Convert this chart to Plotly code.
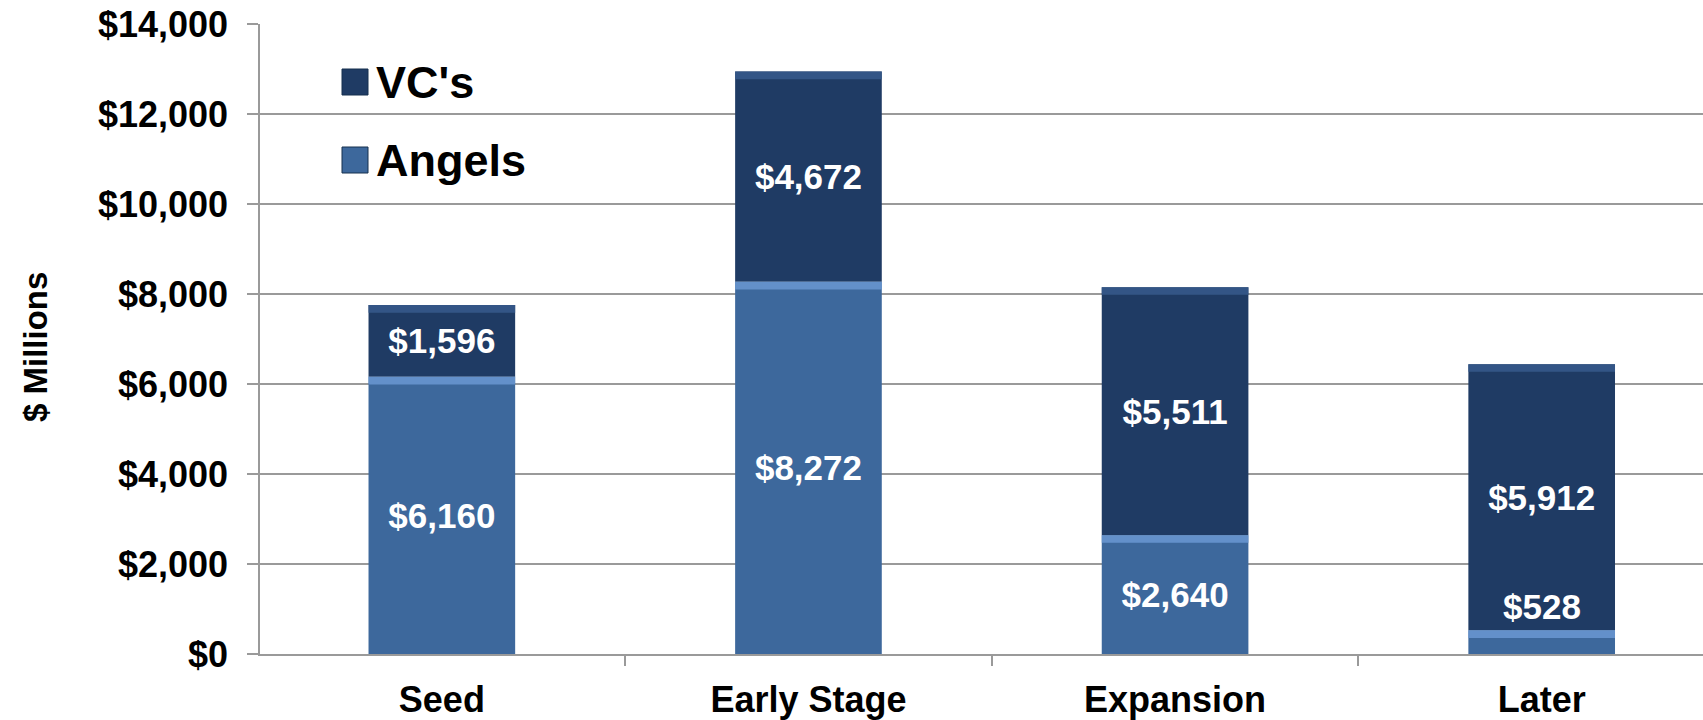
import plotly.graph_objects as go

categories = ["Seed", "Early Stage", "Expansion", "Later"]
angels = [6160, 8272, 2640, 528]
vcs = [1596, 4672, 5511, 5912]
y_ticks = [0, 2000, 4000, 6000, 8000, 10000, 12000, 14000]
y_tick_labels = ["$" + f"{v:,}" for v in y_ticks]

VC_COLOR = "#1F3B64"
ANG_COLOR = "#3D689C"
VC_HI = "#35598A"
ANG_HI = "#6A98D2"
GRID = "#9A9A9A"

W, H = 1703, 720
ML, MR, MT, MB = 260, 0, 24, 66
PW, PH = W - ML - MR, H - MT - MB

FONT = "Liberation Sans, Arial"

def fmt(v):
    return "$" + f"{v:,}"

BAR_W = 0.40
HL = 170  # highlight stripe thickness in data units

vc_base = list(angels)
tops = [a + v for a, v in zip(angels, vcs)]

ang_text = [fmt(v) if v > 1500 else "" for v in angels]
label_font = dict(family=FONT, size=35, color="white", weight="bold")

fig = go.Figure()
fig.add_trace(go.Bar(x=categories, y=angels, base=[0] * 4, width=BAR_W,
                     marker=dict(color=ANG_COLOR, line=dict(width=0)),
                     text=ang_text, textposition="inside", insidetextanchor="middle",
                     textfont=label_font,
                     textangle=0, constraintext="none", showlegend=False, name="Angels"))
fig.add_trace(go.Bar(x=categories, y=vcs, base=vc_base, width=BAR_W,
                     marker=dict(color=VC_COLOR, line=dict(width=0)),
                     text=[fmt(v) for v in vcs], textposition="inside", insidetextanchor="middle",
                     textfont=label_font,
                     textangle=0, constraintext="none", showlegend=False, name="VC's"))
# bevel highlight stripes at segment tops
fig.add_trace(go.Bar(x=categories, y=[HL] * 4, base=[a - HL for a in angels], width=BAR_W,
                     marker=dict(color=ANG_HI, line=dict(width=0)), opacity=0.85,
                     hoverinfo="skip", showlegend=False))
fig.add_trace(go.Bar(x=categories, y=[HL] * 4, base=[t - HL for t in tops], width=BAR_W,
                     marker=dict(color=VC_HI, line=dict(width=0)), opacity=0.9,
                     hoverinfo="skip", showlegend=False))

# label for the small Angels segment, placed just above it
for c, a in zip(categories, angels):
    if a <= 1500:
        fig.add_annotation(x=c, y=a, yref="y", xref="x", text=fmt(a), showarrow=False,
                           yanchor="bottom", yshift=2, font=label_font)

# manual legend (large swatches)
def px2paper(px, py):
    return (px - ML) / PW, (H - MB - py) / PH

legend_items = [("VC's", VC_COLOR, 82), ("Angels", ANG_COLOR, 160)]
for name, col, cy in legend_items:
    x0, y0 = px2paper(342, cy + 13)
    x1, y1 = px2paper(368, cy - 13)
    fig.add_shape(type="rect", xref="paper", yref="paper", x0=x0, x1=x1, y0=y0, y1=y1,
                  fillcolor=col, line=dict(color="#16304F", width=1), layer="above")
    tx, ty = px2paper(374, cy)
    fig.add_annotation(xref="paper", yref="paper", x=tx, y=ty, text="<b>" + name + "</b>",
                       showarrow=False, xanchor="left", yanchor="middle",
                       font=dict(family=FONT, size=45, color="black"))

# y-axis title
tx, ty = px2paper(35, 347)
fig.add_annotation(xref="paper", yref="paper", x=tx, y=ty, text="<b>$ Millions</b>",
                   textangle=-90, showarrow=False, xanchor="center", yanchor="middle",
                   font=dict(family=FONT, size=33, color="black"))

fig.update_layout(
    width=W, height=H,
    margin=dict(l=ML, r=MR, t=MT, b=MB, pad=0),
    barmode="overlay",
    plot_bgcolor="white", paper_bgcolor="white",
    font=dict(family=FONT, color="black"),
    showlegend=False,
)
fig.update_xaxes(type="category", categoryorder="array", categoryarray=categories,
                 range=[-0.496, 3.44], showline=True, linecolor=GRID, linewidth=1.5,
                 ticks="outside", tickson="boundaries", ticklen=10, tickcolor=GRID, tickwidth=1.5,
                 ticklabelstandoff=13,
                 tickfont=dict(size=36, family=FONT, weight="bold"),
                 showgrid=False, zeroline=False)
fig.update_yaxes(range=[0, 14000], tickvals=y_ticks, ticktext=y_tick_labels,
                 showline=True, linecolor=GRID, linewidth=1.5,
                 ticks="outside", ticklen=11, tickcolor=GRID, tickwidth=1.5,
                 showgrid=True, gridcolor=GRID, gridwidth=1.5, zeroline=False,
                 ticklabelstandoff=12,
                 tickfont=dict(size=36, family=FONT, weight="bold"))

fig.write_html("out.html")
